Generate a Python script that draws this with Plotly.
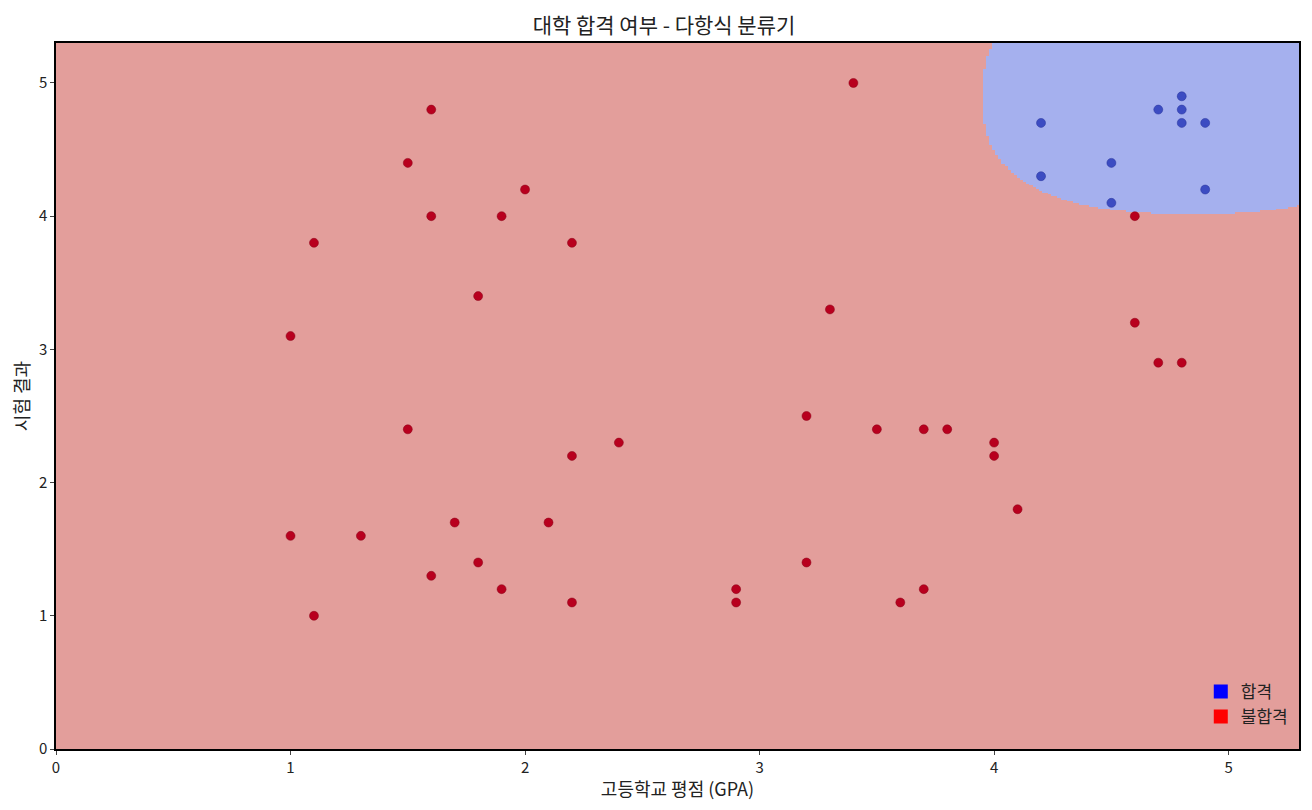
import numpy as np
import plotly.graph_objects as go

pass_x = [4.2, 4.2, 4.5, 4.5, 4.7, 4.8, 4.8, 4.8, 4.9, 4.9]
pass_y = [4.7, 4.3, 4.4, 4.1, 4.8, 4.9, 4.8, 4.7, 4.7, 4.2]
fail_x = [3.4,1.6,1.5,2.0,1.6,1.9,1.1,2.2,1.8,1.0,3.3,4.6,4.6,4.7,4.8,1.5,3.2,3.5,3.7,3.8,2.4,2.2,4.0,4.0,4.1,1.0,1.3,1.7,2.1,1.8,1.6,3.2,1.9,2.9,3.7,2.2,2.9,3.6,1.1]
fail_y = [5.0,4.8,4.4,4.2,4.0,4.0,3.8,3.8,3.4,3.1,3.3,4.0,3.2,2.9,2.9,2.4,2.5,2.4,2.4,2.4,2.3,2.2,2.3,2.2,1.8,1.6,1.6,1.7,1.7,1.4,1.3,1.4,1.2,1.2,1.2,1.1,1.1,1.1,1.0]

# polynomial (quartic-like) decision function
cx, cy, a, b = 4.85, 4.9, 0.9, 0.88
gx = np.linspace(0, 5.3, 400)
gy = np.linspace(0, 5.3, 400)
X, Y = np.meshgrid(gx, gy)
Z = ((np.abs((X - cx) / a) ** 2.6 + np.abs((Y - cy) / b) ** 2.6) < 1).astype(int)

fig = go.Figure()
fig.add_trace(go.Heatmap(x=gx, y=gy, z=Z, zmin=0, zmax=1, zsmooth=False,
    colorscale=[[0, '#E39E9B'], [0.5, '#E39E9B'], [0.5, '#A5B0EE'], [1, '#A5B0EE']],
    showscale=False, hoverinfo='skip'))
fig.add_trace(go.Scatter(x=fail_x, y=fail_y, mode='markers', showlegend=False,
    marker=dict(color='#B8001E', size=9, line=dict(color='#8a0016', width=0.5))))
fig.add_trace(go.Scatter(x=pass_x, y=pass_y, mode='markers', showlegend=False,
    marker=dict(color='#3C4CC2', size=9, line=dict(color='#27339a', width=0.5))))
fig.add_trace(go.Scatter(x=[None], y=[None], mode='markers', name='합격',
    marker=dict(symbol='square', color='#0000FF', size=14)))
fig.add_trace(go.Scatter(x=[None], y=[None], mode='markers', name='불합격',
    marker=dict(symbol='square', color='#FF0000', size=14)))

fig.update_layout(
    width=1312, height=810, plot_bgcolor='white', paper_bgcolor='white',
    margin=dict(l=48, r=21, t=35, b=69, autoexpand=False),
    font=dict(family='Noto Sans CJK KR, sans-serif', size=15, color='#222'),
    title=dict(text='대학 합격 여부 - 다항식 분류기', x=0.5, xanchor='center', y=0.978, yanchor='middle', font=dict(size=21)),
    legend=dict(x=0.995, y=0.02, xanchor='right', yanchor='bottom', bgcolor='rgba(0,0,0,0)', font=dict(size=17)),
)
axis = dict(range=[0, 5.3], showgrid=True, gridcolor='rgba(120,120,120,0.15)', zeroline=False, automargin=False,
            showline=True, linecolor='black', linewidth=1.5, mirror=True, ticks='outside', ticklen=4, dtick=1)
fig.update_xaxes(title_text='고등학교 평점 (GPA)', title_standoff=8, **axis)
fig.update_yaxes(title_text='시험 결과', title_standoff=10, **axis)
fig.update_layout(xaxis=dict(layer='above traces'), yaxis=dict(layer='above traces'))
fig.write_html('out.html')
